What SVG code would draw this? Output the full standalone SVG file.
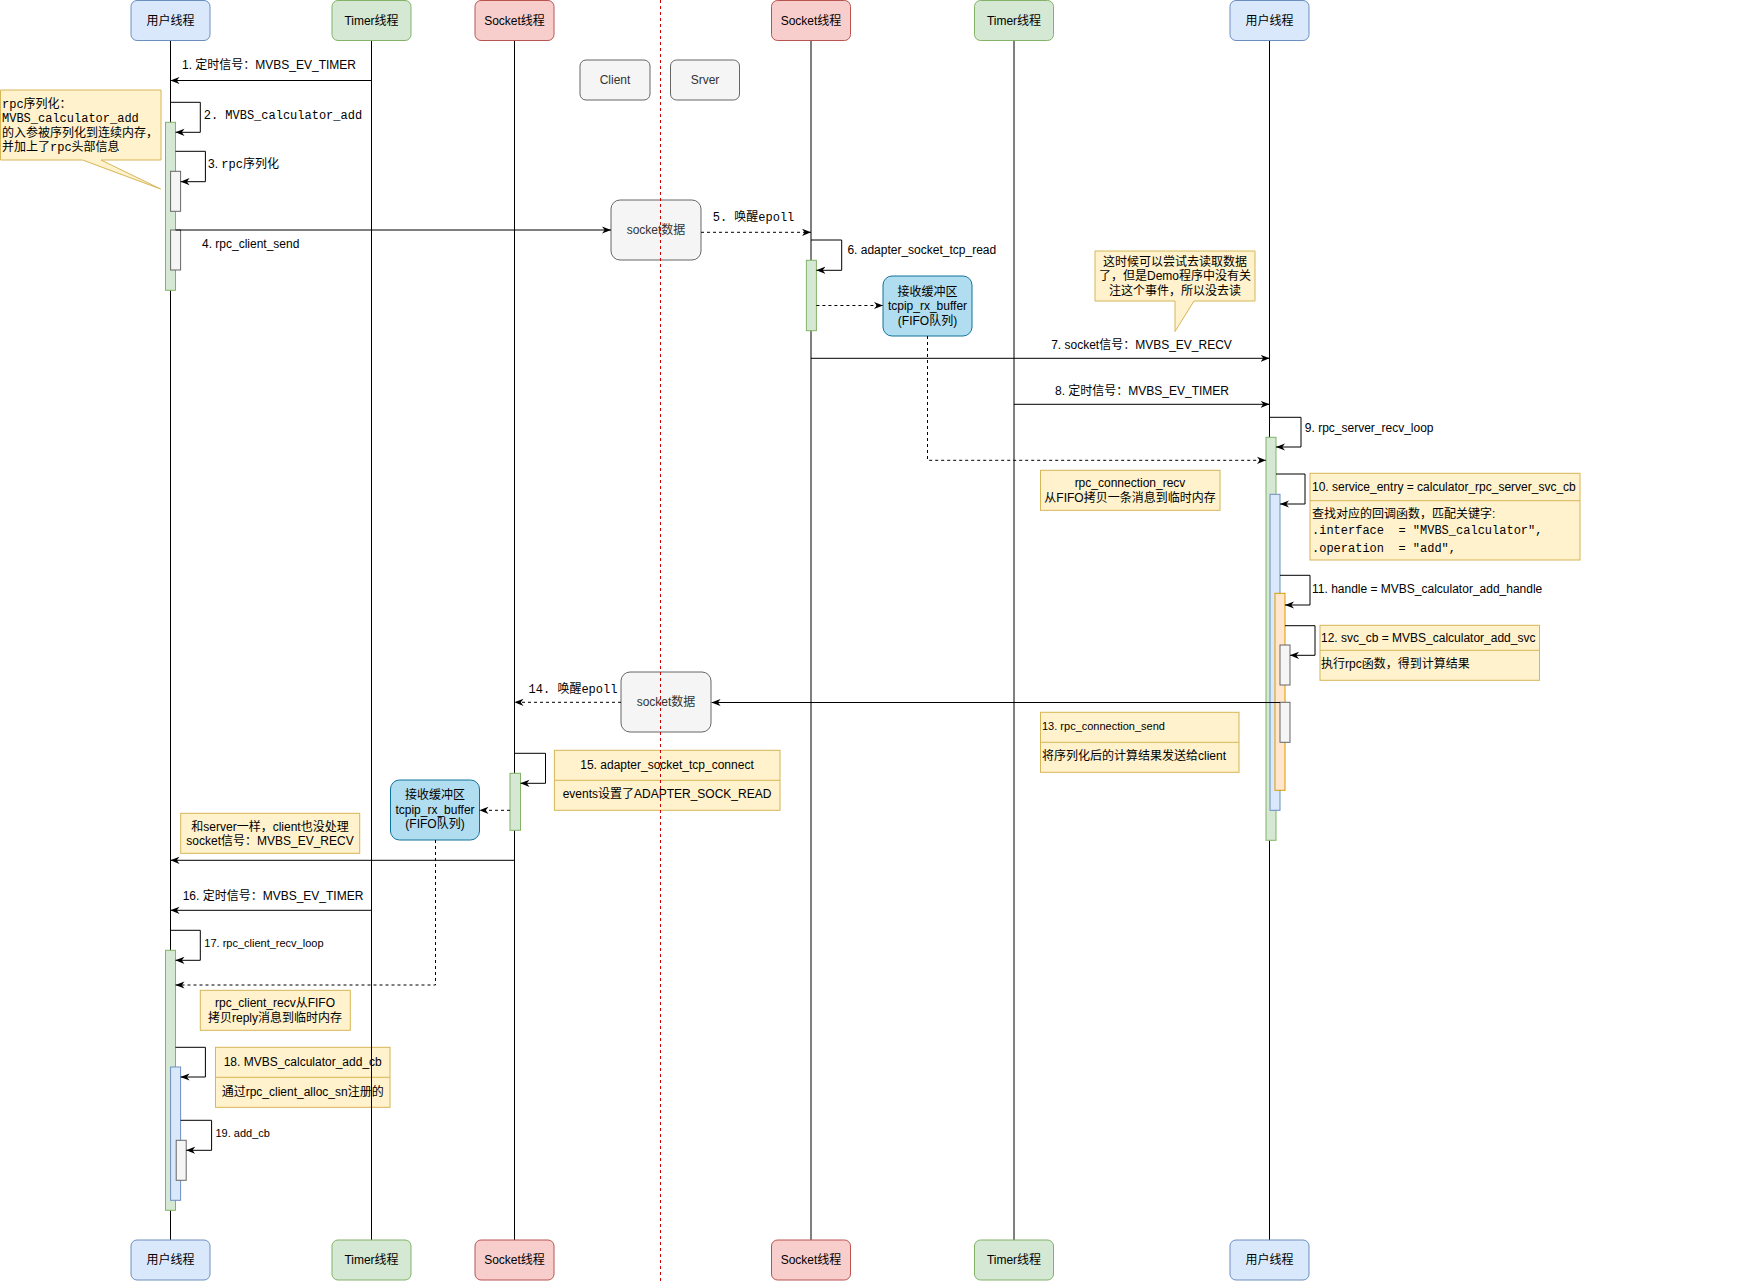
<svg xmlns="http://www.w3.org/2000/svg" width="1761" height="1283" viewBox="0 0 1761 1283">
<style>
.t{font-family:"Liberation Sans","Noto Sans CJK SC",sans-serif;font-size:12px;fill:#000}
.s{font-size:11px}
.m{font-family:"Liberation Mono","Noto Sans CJK SC",monospace;font-size:12px;fill:#000}
.c{text-anchor:middle}
.g{fill:#333}
.hu{fill:#dae8fc;stroke:#6c8ebf}
.ht{fill:#d5e8d4;stroke:#82b366}
.hs{fill:#f8cecc;stroke:#b85450}
.gr{fill:#f5f5f5;stroke:#666}
.nt{fill:#fff2cc;stroke:#d6b656}
.bf{fill:#b1ddf0;stroke:#10739e}
.bo{fill:#ffe6cc;stroke:#d79b00}
.ll{stroke:#000;stroke-width:1;fill:none}
.cn{stroke:#000;stroke-width:1;fill:none;marker-end:url(#a)}
.d{stroke-dasharray:3 3}
</style>
<defs>
<marker id="a" viewBox="0 0 10 10" refX="10" refY="5" markerWidth="9" markerHeight="9" markerUnits="userSpaceOnUse" orient="auto"><path d="M0,1 L10,5 L0,9 L3,5 Z" fill="#000"/></marker>
</defs>
<rect width="1761" height="1283" fill="#fff"/>

<g id="notes">
<g id="note1"><path class="nt" d="M0.5,90 H161 V160 H101 L160.6,189 L82.5,160 H0.5 Z"/>
<text class="m" x="2" y="108">rpc序列化：</text>
<text class="m" x="2" y="122">MVBS_calculator_add</text>
<text class="m" x="2" y="136.5">的入参被序列化到连续内存，</text>
<text class="m" x="2" y="150.5">并加上了rpc头部信息</text></g>
<g id="note2"><path class="nt" d="M1095,251 H1255 V301 H1194 L1175,331.5 L1175,301 H1095 Z"/>
<text class="t c" x="1175" y="266">这时候可以尝试去读取数据</text>
<text class="t c" x="1175" y="280">了，但是Demo程序中没有关</text>
<text class="t c" x="1175" y="294.7">注这个事件，所以没去读</text></g>
<g id="note-recv"><rect class="nt" x="1040.5" y="470.3" width="179.5" height="40"/>
<text class="t c" x="1130" y="487">rpc_connection_recv</text>
<text class="t c" x="1130" y="502">从FIFO拷贝一条消息到临时内存</text></g>
<g id="note10"><rect class="nt" x="1310" y="473.3" width="270" height="86.7"/><path class="nt" d="M1310,500.7 H1580"/>
<text class="t" x="1312" y="491">10. service_entry = calculator_rpc_server_svc_cb</text>
<text class="t" x="1312" y="518">查找对应的回调函数，匹配关键字:</text>
<text class="m" x="1312" y="534" xml:space="preserve">.interface  = "MVBS_calculator",</text>
<text class="m" x="1312" y="552" xml:space="preserve">.operation  = "add",</text></g>
<g id="note12"><rect class="nt" x="1320" y="625.3" width="219.5" height="55"/><path class="nt" d="M1320,650.3 H1539.5"/>
<text class="t" x="1321" y="641.7">12. svc_cb = MVBS_calculator_add_svc</text>
<text class="t" x="1321" y="668">执行rpc函数，得到计算结果</text></g>
<g id="note13"><rect class="nt" x="1040.5" y="712.3" width="198.5" height="60"/><path class="nt" d="M1040.5,742.3 H1239"/>
<text class="t s" x="1042" y="730">13. rpc_connection_send</text>
<text class="t" x="1042" y="760">将序列化后的计算结果发送给client</text></g>
<g id="note15"><rect class="nt" x="554.4" y="750.3" width="225.6" height="60"/><path class="nt" d="M554.4,780.3 H780"/>
<text class="t c" x="667" y="769">15. adapter_socket_tcp_connect</text>
<text class="t c" x="667" y="798">events设置了ADAPTER_SOCK_READ</text></g>
<g id="note-srv"><rect class="nt" x="180.7" y="813.3" width="179" height="40"/>
<text class="t c" x="270" y="830.7">和server一样，client也没处理</text>
<text class="t c" x="270" y="844.7">socket信号：MVBS_EV_RECV</text></g>
<g id="note-clientrecv"><rect class="nt" x="200.3" y="990.3" width="150" height="40"/>
<text class="t c" x="275" y="1006.7">rpc_client_recv从FIFO</text>
<text class="t c" x="275" y="1021.7">拷贝reply消息到临时内存</text></g>
<g id="note18"><rect class="nt" x="215.5" y="1047.3" width="174.5" height="60"/><path class="nt" d="M215.5,1077.3 H390"/>
<text class="t c" x="302.7" y="1066">18. MVBS_calculator_add_cb</text>
<text class="t c" x="302.7" y="1096">通过rpc_client_alloc_sn注册的</text></g>
</g>

<g id="boxes">
<g id="client"><rect class="gr" x="580" y="60" width="70" height="40" rx="6"/><text class="t c g" x="615" y="84">Client</text></g>
<g id="srver"><rect class="gr" x="670.5" y="60" width="69" height="40" rx="6"/><text class="t c g" x="705" y="84">Srver</text></g>
<g id="sockdata1"><rect class="gr" x="611" y="200" width="90" height="60" rx="9"/><text class="t c g" x="656" y="234">socket数据</text></g>
<g id="sockdata2"><rect class="gr" x="621" y="672" width="90" height="60" rx="9"/><text class="t c g" x="666" y="706">socket数据</text></g>
<g id="buffer1"><rect class="bf" x="883" y="276" width="89" height="60" rx="9"/>
<text class="t c" x="927.5" y="296">接收缓冲区</text><text class="t c" x="927.5" y="310">tcpip_rx_buffer</text><text class="t c" x="927.5" y="324.5">(FIFO队列)</text></g>
<g id="buffer2"><rect class="bf" x="390.5" y="780" width="89" height="60" rx="9"/>
<text class="t c" x="435" y="799">接收缓冲区</text><text class="t c" x="435" y="813.5">tcpip_rx_buffer</text><text class="t c" x="435" y="828">(FIFO队列)</text></g>
</g>

<g id="lifelines">
<path class="ll" d="M170.5,40.5 V1240 M371.5,40.5 V1240 M514.5,40.5 V1240 M811,40.5 V1240 M1014,40.5 V1240 M1269.5,40.5 V1240"/>
<path d="M660.5,0 V1283" stroke="#cc0000" stroke-width="1" stroke-dasharray="3 3" fill="none"/>
</g>

<g id="heads">
<g id="u1-top"><rect class="hu" x="131" y="0.5" width="79" height="40" rx="6"/><text class="t c" x="170.5" y="24.5">用户线程</text></g>
<g id="t1-top"><rect class="ht" x="332" y="0.5" width="79" height="40" rx="6"/><text class="t c" x="371.5" y="24.5">Timer线程</text></g>
<g id="s1-top"><rect class="hs" x="475" y="0.5" width="79" height="40" rx="6"/><text class="t c" x="514.5" y="24.5">Socket线程</text></g>
<g id="s2-top"><rect class="hs" x="771.5" y="0.5" width="79" height="40" rx="6"/><text class="t c" x="811" y="24.5">Socket线程</text></g>
<g id="t2-top"><rect class="ht" x="974.5" y="0.5" width="79" height="40" rx="6"/><text class="t c" x="1014" y="24.5">Timer线程</text></g>
<g id="u2-top"><rect class="hu" x="1230" y="0.5" width="79" height="40" rx="6"/><text class="t c" x="1269.5" y="24.5">用户线程</text></g>
<g id="u1-bot"><rect class="hu" x="131" y="1240" width="79" height="40" rx="6"/><text class="t c" x="170.5" y="1264">用户线程</text></g>
<g id="t1-bot"><rect class="ht" x="332" y="1240" width="79" height="40" rx="6"/><text class="t c" x="371.5" y="1264">Timer线程</text></g>
<g id="s1-bot"><rect class="hs" x="475" y="1240" width="79" height="40" rx="6"/><text class="t c" x="514.5" y="1264">Socket线程</text></g>
<g id="s2-bot"><rect class="hs" x="771.5" y="1240" width="79" height="40" rx="6"/><text class="t c" x="811" y="1264">Socket线程</text></g>
<g id="t2-bot"><rect class="ht" x="974.5" y="1240" width="79" height="40" rx="6"/><text class="t c" x="1014" y="1264">Timer线程</text></g>
<g id="u2-bot"><rect class="hu" x="1230" y="1240" width="79" height="40" rx="6"/><text class="t c" x="1269.5" y="1264">用户线程</text></g>
</g>

<g id="activations">
<rect class="ht" x="165.5" y="122.3" width="10" height="168"/>
<rect class="gr" x="170.6" y="171.3" width="10" height="40"/>
<rect class="gr" x="170.6" y="230" width="10" height="40"/>
<rect class="ht" x="806.4" y="260.3" width="10" height="70.4"/>
<rect class="ht" x="1266" y="437.3" width="10" height="403"/>
<rect class="hu" x="1270" y="494.3" width="10" height="316"/>
<rect class="bo" x="1275" y="593.3" width="10" height="197"/>
<rect class="gr" x="1280" y="645" width="10" height="40"/>
<rect class="gr" x="1280" y="702.3" width="10" height="40"/>
<rect class="ht" x="510" y="773.3" width="10.5" height="57"/>
<rect class="ht" x="165.5" y="950.3" width="10" height="260"/>
<rect class="hu" x="170.6" y="1067" width="10" height="133.3"/>
<rect class="gr" x="176.2" y="1140.3" width="10" height="40"/>
</g>

<g id="connectors">
<path class="cn" d="M371.5,80.5 H170.5"/>
<path class="cn" d="M170.5,102.3 H200.3 V132.3 H175.5"/>
<path class="cn" d="M175.5,151.3 H205.4 V181.7 H180.6"/>
<path class="cn" d="M175.5,230 H611"/>
<path class="cn d" d="M701,232.3 H811"/>
<path class="cn" d="M811,240 H841.7 V270.3 H816.4"/>
<path class="cn d" d="M816.4,305.5 H883"/>
<path class="cn" d="M811,358.3 H1269.5"/>
<path class="cn" d="M1014,404.3 H1269.5"/>
<path class="cn" d="M1269.5,417.3 H1301 V447 H1276"/>
<path class="cn d" d="M927.5,336 V460.3 H1266"/>
<path class="cn" d="M1276,474 H1305 V504 H1280"/>
<path class="cn" d="M1280,575.3 H1310 V605 H1285"/>
<path class="cn" d="M1285,625.7 H1315 V655.3 H1290"/>
<path class="cn" d="M1280,702.5 H711.6"/>
<path class="cn d" d="M621,702.3 H514.5"/>
<path class="cn" d="M514.5,753.3 H545.5 V783.3 H520.5"/>
<path class="cn d" d="M510,810.3 H479.5"/>
<path class="cn" d="M514.5,860.3 H170.5"/>
<path class="cn" d="M371.5,910.3 H170.5"/>
<path class="cn" d="M170.5,930.3 H200.3 V960.3 H175.5"/>
<path class="cn d" d="M435.5,840 V985 H175.5"/>
<path class="cn" d="M175.5,1047.3 H205.4 V1077 H180.6"/>
<path class="cn" d="M180.6,1120.3 H211.6 V1150.3 H186.2"/>
</g>

<g id="labels">
<text class="t c" x="269" y="69">1. 定时信号：MVBS_EV_TIMER</text>
<text class="m" x="203.7" y="119">2. MVBS_calculator_add</text>
<text class="t" x="208" y="168">3. <tspan class="m">rpc序列化</tspan></text>
<text class="t" x="202" y="248">4. rpc_client_send</text>
<text class="m" x="712.7" y="221">5. 唤醒epoll</text>
<text class="t" x="847.4" y="254">6. adapter_socket_tcp_read</text>
<text class="t c" x="1141.5" y="348.5">7. socket信号：MVBS_EV_RECV</text>
<text class="t c" x="1142" y="394.5">8. 定时信号：MVBS_EV_TIMER</text>
<text class="t" x="1304.8" y="432">9. rpc_server_recv_loop</text>
<text class="t" x="1312" y="593">11. handle = MVBS_calculator_add_handle</text>
<text class="m" x="528.6" y="693">14. 唤醒epoll</text>
<text class="t c" x="273" y="900">16. 定时信号：MVBS_EV_TIMER</text>
<text class="t s" x="204.3" y="947.3">17. rpc_client_recv_loop</text>
<text class="t s" x="215.5" y="1137.3">19. add_cb</text>
</g>
</svg>
